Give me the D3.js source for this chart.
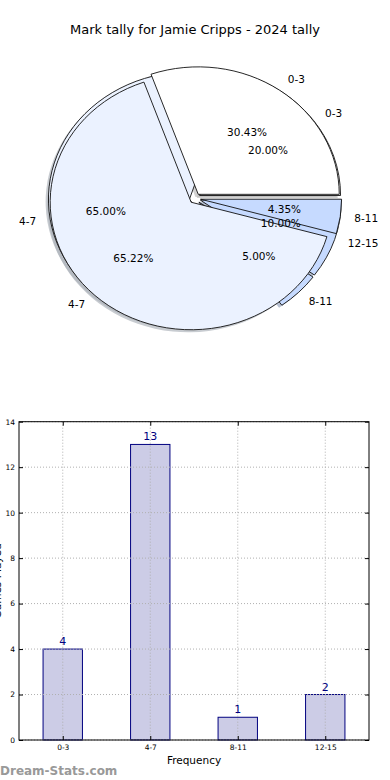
<!DOCTYPE html>
<head>
  <meta charset="utf-8">
  <script src="https://d3js.org/d3.v7.min.js"></script>
  <style>
    body { margin:0; background:#fff; }
    text { font-family: "DejaVu Sans", sans-serif; }
  </style>
</head>

<body>
<script>
  // bins and tallies
  var tallyBins = ["0-3", "4-7", "8-11", "12-15"];
  var gameCounts = [4, 13, 1, 2];            // bar chart + first pie
  var otherPct = [30.43, 65.22, 4.35];       // second pie (0-3, 4-7, 8-11)
  var binColors = ["#ffffff", "#ebf2ff", "#c6daff", "#c6daff"];
  var yTicks = [0, 2, 4, 6, 8, 10, 12, 14];

  var svg = d3.select("body").append("svg")
    .attr("width", 390)
    .attr("height", 780);

  svg.append("text")
    .attr("x", 195).attr("y", 34)
    .attr("text-anchor", "middle")
    .style("font-size", "13px")
    .text("Mark tally for Jamie Cripps - 2024 tally");

  // ---- pies (matplotlib style: ccw from east, exploded, shadowed) ----
  var cx = 195, cy = 198.5, rx = 141, ry = 127.5, explode = 0.04;

  var pie = d3.pie().sort(null)
    .startAngle(Math.PI / 2)
    .endAngle(Math.PI / 2 - 2 * Math.PI);
  var arc = d3.arc().innerRadius(0).outerRadius(1);

  var pies = [
    { arcs: pie(gameCounts), labels: tallyBins },
    { arcs: pie(otherPct), labels: tallyBins.slice(0, 3) }
  ];
  pies.forEach(function(p) {
    var total = d3.sum(p.arcs, function(d) { return d.value; });
    p.arcs.forEach(function(d, i) {
      d.mid = (d.startAngle + d.endAngle) / 2;
      d.label = p.labels[i];
      d.color = binColors[i];
      d.pct = (100 * d.value / total).toFixed(2) + "%";
    });
  });

  var pg = svg.append("g")
    .attr("transform", "translate(" + cx + "," + cy + ") scale(" + rx + "," + ry + ")");

  function offset(d, dx, dy) {
    return "translate(" + (explode * Math.sin(d.mid) + dx) + "," + (-explode * Math.cos(d.mid) + dy) + ")";
  }

  // shadows first (lower zorder)
  pies.forEach(function(p) {
    pg.append("g").selectAll("path")
      .data(p.arcs)
      .enter().append("path")
      .attr("d", arc)
      .attr("transform", function(d) { return offset(d, -0.02, 0.02); })
      .attr("fill", function(d) { return d3.color(d.color).darker(0.9); })
      .attr("opacity", 0.65);
  });

  pies.forEach(function(p) {
    pg.append("g").selectAll("path")
      .data(p.arcs)
      .enter().append("path")
      .attr("d", arc)
      .attr("transform", function(d) { return offset(d, 0, 0); })
      .attr("fill", function(d) { return d.color; })
      .attr("stroke", "#111")
      .attr("stroke-width", 0.9)
      .attr("vector-effect", "non-scaling-stroke");
  });

  function px(d, f) { return cx + rx * (f + explode) * Math.sin(d.mid); }
  function py(d, f) { return cy - ry * (f + explode) * Math.cos(d.mid); }

  pies.forEach(function(p) {
    var tg = svg.append("g").style("font-size", "10.5px");
    tg.selectAll("text.lbl")
      .data(p.arcs)
      .enter().append("text")
      .attr("x", function(d) { return px(d, 1.1); })
      .attr("y", function(d) { return py(d, 1.1); })
      .attr("dy", "0.35em")
      .attr("text-anchor", function(d) { return Math.sin(d.mid) > 0 ? "start" : "end"; })
      .text(function(d) { return d.label; });
    tg.selectAll("text.pct")
      .data(p.arcs)
      .enter().append("text")
      .attr("x", function(d) { return px(d, 0.6); })
      .attr("y", function(d) { return py(d, 0.6); })
      .attr("dy", "0.35em")
      .attr("text-anchor", "middle")
      .text(function(d) { return d.pct; });
  });

  // ---- bar chart ----
  var plotL = 19, plotR = 369, plotT = 421.7, plotB = 740;

  var x = d3.scaleBand().domain(tallyBins)
    .range([plotL, plotR])
    .paddingInner(0.55).paddingOuter(0.275);
  var y = d3.scaleLinear().domain([0, 14]).range([plotB, plotT]);

  var bg = svg.append("g");

  bg.selectAll("rect.bar")
    .data(gameCounts)
    .enter().append("rect")
    .attr("x", function(d, i) { return x(tallyBins[i]); })
    .attr("y", function(d) { return y(d); })
    .attr("width", x.bandwidth())
    .attr("height", function(d) { return y(0) - y(d); })
    .attr("fill", "#ccccE6")
    .attr("stroke", "#00007f")
    .attr("stroke-width", 1);

  // dotted grid on top
  bg.append("g").selectAll("line")
    .data(yTicks)
    .enter().append("line")
    .attr("x1", plotL).attr("x2", plotR)
    .attr("y1", function(d) { return y(d); })
    .attr("y2", function(d) { return y(d); })
    .attr("stroke", "#b0b0b0")
    .attr("stroke-dasharray", "1,2");
  bg.append("g").selectAll("line")
    .data(tallyBins)
    .enter().append("line")
    .attr("x1", function(d) { return x(d) + x.bandwidth() / 2; })
    .attr("x2", function(d) { return x(d) + x.bandwidth() / 2; })
    .attr("y1", plotT).attr("y2", plotB)
    .attr("stroke", "#b0b0b0")
    .attr("stroke-dasharray", "1,2");

  bg.selectAll("text.val")
    .data(gameCounts)
    .enter().append("text")
    .attr("x", function(d, i) { return x(tallyBins[i]) + x.bandwidth() / 2; })
    .attr("y", function(d) { return y(d) - 4; })
    .attr("text-anchor", "middle")
    .attr("fill", "#00007f")
    .style("font-size", "11px")
    .text(function(d) { return d; });

  var xc = d3.scaleOrdinal().domain(tallyBins)
    .range(tallyBins.map(function(b) { return x(b) + x.bandwidth() / 2; }));

  function styleAxis(g) {
    g.select(".domain").remove();
    g.selectAll("text").style("font-size", "7.5px").style("font-family", "DejaVu Sans");
    g.selectAll("line").attr("stroke", "#000");
  }

  bg.append("g").attr("transform", "translate(" + plotL + ",0)")
    .call(d3.axisLeft(y).tickValues(yTicks).tickSizeInner(-4).tickSizeOuter(0).tickPadding(4))
    .call(styleAxis);
  bg.append("g").attr("transform", "translate(" + plotR + ",0)")
    .call(d3.axisRight(y).tickValues(yTicks).tickSizeInner(-4).tickSizeOuter(0).tickFormat(""))
    .call(styleAxis);
  bg.append("g").attr("transform", "translate(0," + plotB + ")")
    .call(d3.axisBottom(xc).tickSizeInner(-4).tickSizeOuter(0).tickPadding(5))
    .call(styleAxis);
  bg.append("g").attr("transform", "translate(0," + plotT + ")")
    .call(d3.axisTop(xc).tickSizeInner(-4).tickSizeOuter(0).tickFormat(""))
    .call(styleAxis);

  bg.append("rect")
    .attr("x", plotL).attr("y", plotT)
    .attr("width", plotR - plotL).attr("height", plotB - plotT)
    .attr("fill", "none")
    .attr("stroke", "#000");

  svg.append("text")
    .attr("x", (plotL + plotR) / 2).attr("y", 764)
    .attr("text-anchor", "middle")
    .style("font-size", "10.5px")
    .text("Frequency");

  // y label sits mostly off the left edge, as in the source image
  svg.append("text")
    .attr("transform", "translate(1," + (plotT + plotB) / 2 + ") rotate(-90)")
    .attr("text-anchor", "middle")
    .style("font-size", "10.5px")
    .text("Games Played");

  svg.append("text")
    .attr("x", 0).attr("y", 775)
    .attr("fill", "#999")
    .style("font-size", "12px")
    .style("font-weight", "bold")
    .text("Dream-Stats.com");
</script>
</body>
